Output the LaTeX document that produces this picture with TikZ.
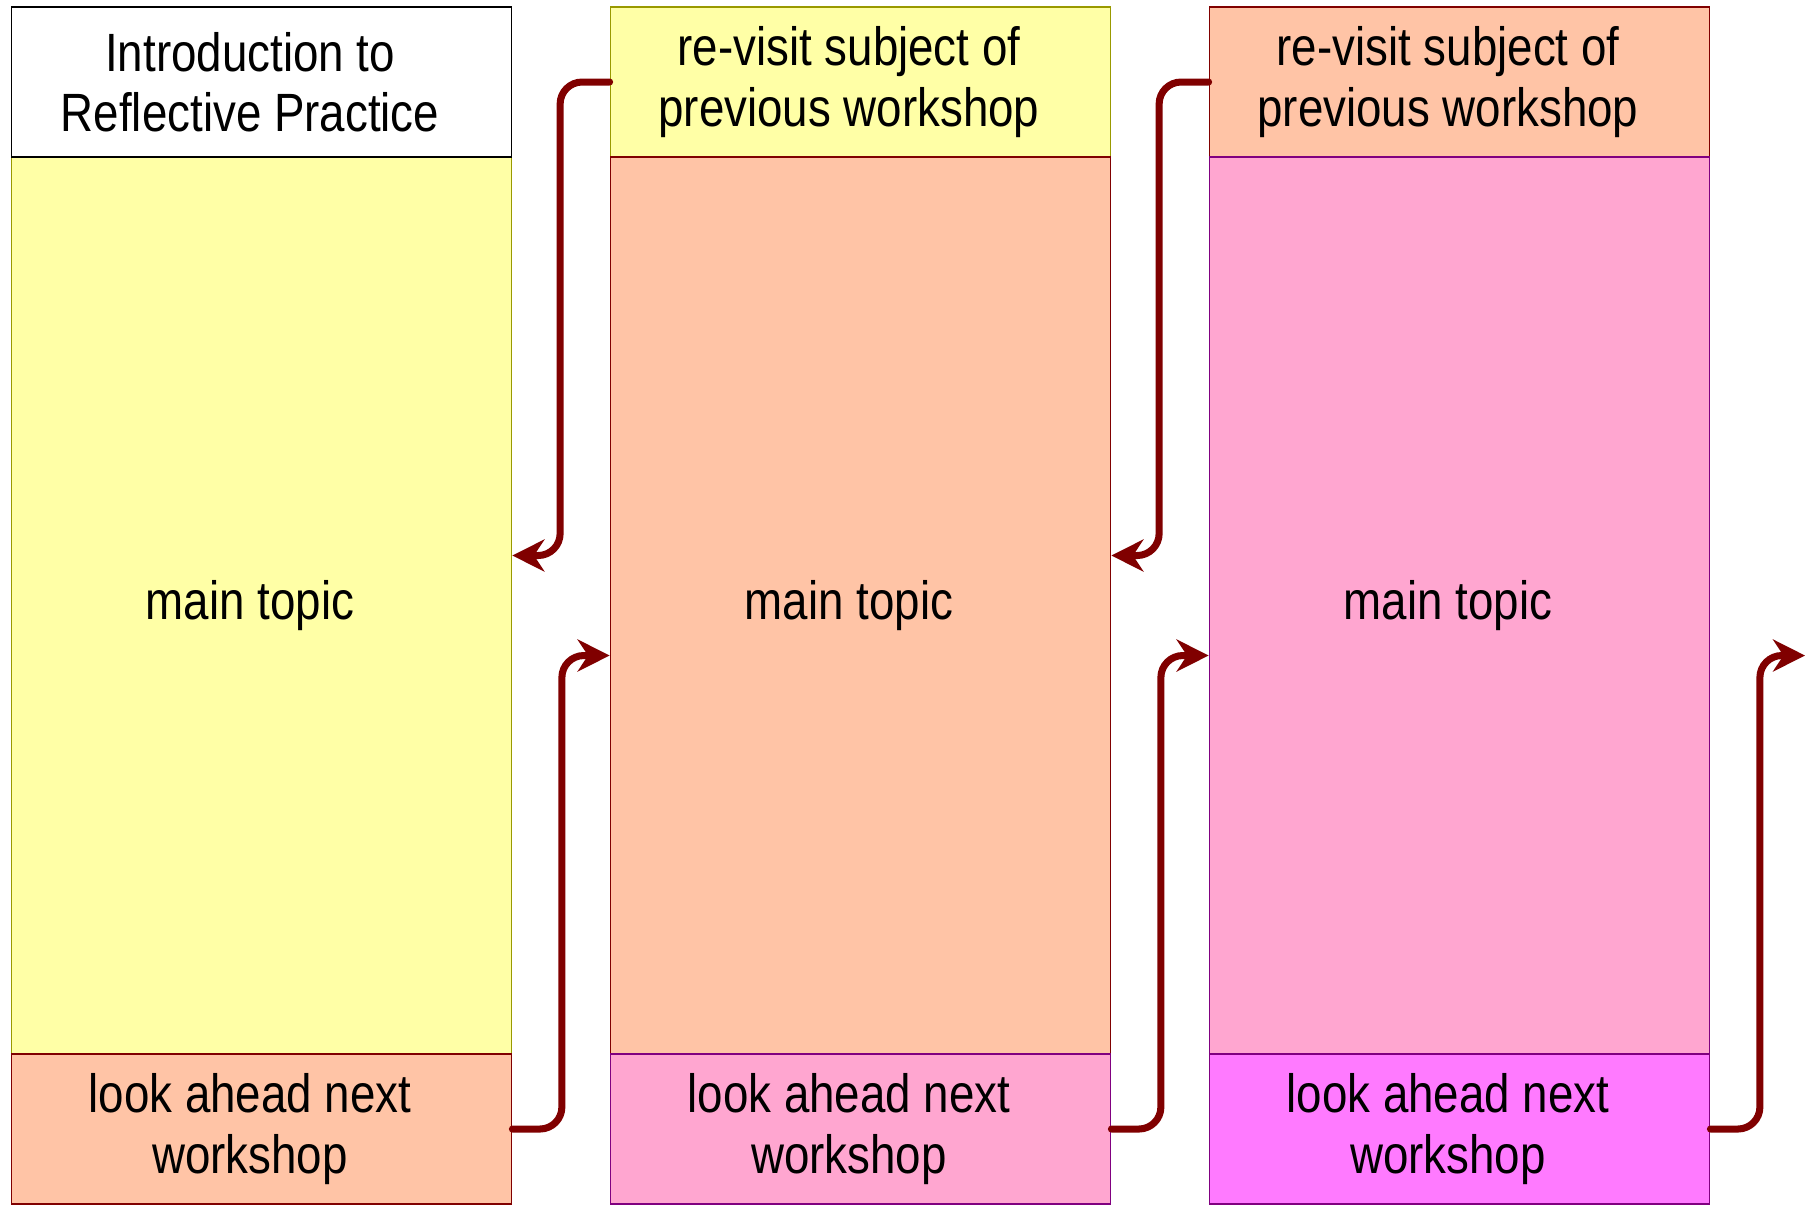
\documentclass[tikz,border=0pt]{standalone}
\usepackage{fontspec}
\setmainfont{Liberation Sans}
\usetikzlibrary{arrows.meta}
\definecolor{lightyellow}{RGB}{255,255,166}
\definecolor{salmon}{RGB}{255,196,166}
\definecolor{lightpink}{RGB}{255,166,208}
\definecolor{brightpink}{RGB}{255,122,255}
\definecolor{olive}{RGB}{153,153,0}
\definecolor{maroon}{RGB}{128,0,0}
\definecolor{violet}{RGB}{128,0,128}
\tikzset{
  lbl/.style={yscale=1.18,align=center,xshift=-1.15mm,inner sep=0pt,
    font=\fontsize{13}{14.5}\selectfont},
  box/.style={rectangle,draw,line width=0.5pt,minimum width=5cm,inner sep=0pt,
    label={[lbl]center:#1}},
  hdr/.style={box={#1},minimum height=1.5cm},
  topic/.style={box={#1},minimum height=8.97cm},
  ftr/.style={box={#1},minimum height=1.5cm},
  link/.style={draw=maroon,line width=2pt,rounded corners=0.22cm,line cap=round,
    -{Stealth[length=3.2mm,width=3.2mm]}}
}
\begin{document}
\begin{tikzpicture}
      \useasboundingbox (0,0) rectangle (18.05,-12.08);
      \node[topic={main topic},fill=lightyellow,draw=olive] (m1) at (2.615,-6.055) {};
      \node[hdr={Introduction to\\Reflective Practice},fill=white,draw=black] (h1) at (2.615,-0.82) {};
      \node[ftr={look ahead next\\workshop},fill=salmon,draw=maroon] (f1) at (2.615,-11.29) {};
      \node[hdr={re-visit subject of\\previous workshop},fill=lightyellow,draw=olive] (h2) at (8.605,-0.82) {};
      \node[topic={main topic},fill=salmon,draw=maroon] (m2) at (8.605,-6.055) {};
      \node[ftr={look ahead next\\workshop},fill=lightpink,draw=violet] (f2) at (8.605,-11.29) {};
      \node[hdr={re-visit subject of\\previous workshop},fill=salmon,draw=maroon] (h3) at (14.595,-0.82) {};
      \node[topic={main topic},fill=lightpink,draw=violet] (m3) at (14.595,-6.055) {};
      \node[ftr={look ahead next\\workshop},fill=brightpink,draw=violet] (f3) at (14.595,-11.29) {};
      \coordinate (next) at (18.05,-6.555);
      \draw[link] (h2.west) -- ++(-0.495,0) |- ([yshift=5mm]m1.east);
      \draw[link] (h3.west) -- ++(-0.495,0) |- ([yshift=5mm]m2.east);
      \draw[link] (f1.east) -- ++(0.495,0) |- ([yshift=-5mm]m2.west);
      \draw[link] (f2.east) -- ++(0.495,0) |- ([yshift=-5mm]m3.west);
      \draw[link] (f3.east) -- ++(0.495,0) |- (next);
    \end{tikzpicture}
\end{document}
